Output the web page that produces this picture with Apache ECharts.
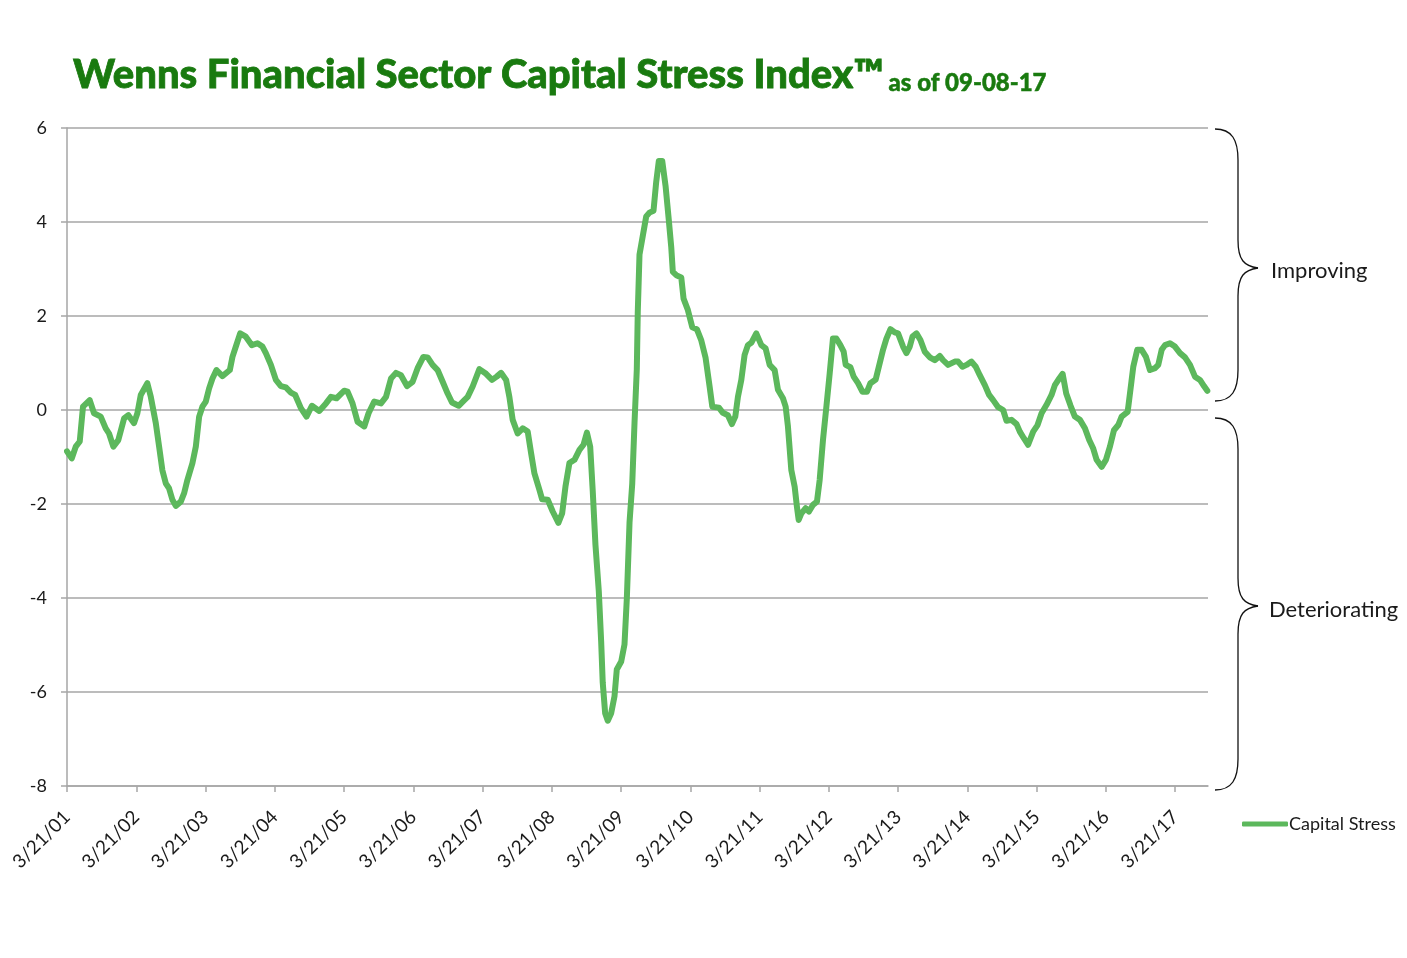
<!DOCTYPE html>
<html>
<head>
<meta charset="utf-8">
<script src="https://cdn.jsdelivr.net/npm/echarts@6/dist/echarts.min.js"></script>
<style>
html,body{margin:0;padding:0;background:#fff;}
#chart{width:1407px;height:958px;}
</style>
</head>
<body>
<div id="chart"></div>
<script>
// Dates as decimal years (3/21 = .216)
const dates = [
2001.216,2001.284,2001.342,2001.400,2001.447,2001.544,2001.606,2001.703,2001.775,2001.823,2001.885,2001.957,
2002.040,2002.102,2002.184,2002.232,2002.281,2002.376,2002.426,2002.498,2002.546,2002.593,2002.642,2002.690,
2002.738,2002.787,2002.859,2002.907,2002.954,2003.027,2003.076,2003.124,2003.171,2003.220,2003.268,2003.316,
2003.374,2003.460,2003.567,2003.605,2003.654,2003.716,2003.798,2003.885,2003.966,2004.038,2004.087,2004.160,
2004.232,2004.304,2004.376,2004.449,2004.511,2004.593,2004.674,2004.752,2004.858,2004.955,2005.027,2005.108,
2005.219,2005.267,2005.339,2005.411,2005.508,2005.570,2005.652,2005.749,2005.822,2005.894,2005.966,2006.038,
2006.125,2006.206,2006.278,2006.361,2006.423,2006.495,2006.567,2006.640,2006.712,2006.775,2006.871,2006.953,
2007.001,2007.073,2007.170,2007.267,2007.353,2007.420,2007.483,2007.556,2007.603,2007.651,2007.723,2007.796,
2007.868,2007.917,2007.965,2008.037,2008.076,2008.157,2008.229,2008.311,2008.365,2008.413,2008.470,2008.543,
2008.615,2008.673,2008.723,2008.770,2008.807,2008.846,2008.894,2008.928,2008.951,2008.986,2009.024,2009.073,
2009.121,2009.154,2009.218,2009.265,2009.299,2009.338,2009.377,2009.410,2009.443,2009.457,2009.482,2009.530,
2009.579,2009.626,2009.684,2009.723,2009.761,2009.810,2009.858,2009.905,2009.940,2009.963,2010.021,2010.085,
2010.118,2010.180,2010.244,2010.310,2010.374,2010.436,2010.494,2010.533,2010.628,2010.686,2010.758,2010.816,
2010.865,2010.903,2010.952,2010.999,2011.047,2011.096,2011.168,2011.241,2011.303,2011.361,2011.433,2011.481,
2011.553,2011.592,2011.625,2011.674,2011.722,2011.755,2011.780,2011.819,2011.881,2011.929,2011.986,2012.044,
2012.083,2012.131,2012.180,2012.228,2012.275,2012.324,2012.382,2012.430,2012.459,2012.527,2012.574,2012.637,
2012.700,2012.767,2012.816,2012.892,2012.998,2013.047,2013.105,2013.167,2013.215,2013.287,2013.336,2013.384,
2013.423,2013.481,2013.538,2013.601,2013.673,2013.745,2013.817,2013.865,2013.937,2014.034,2014.082,2014.145,
2014.203,2014.275,2014.337,2014.395,2014.468,2014.530,2014.588,2014.660,2014.732,2014.781,2014.853,2014.926,
2014.973,2015.031,2015.093,2015.166,2015.229,2015.287,2015.359,2015.431,2015.479,2015.542,2015.591,2015.643,
2015.706,2015.768,2015.841,2015.913,2015.975,2016.033,2016.082,2016.154,2016.216,2016.274,2016.332,2016.394,
2016.443,2016.530,2016.563,2016.611,2016.668,2016.732,2016.794,2016.852,2016.925,2016.972,2017.021,2017.069,
2017.141,2017.213,2017.286,2017.358,2017.430,2017.502,2017.574,2017.632,2017.680
];
const stress = [
-0.88,-1.03,-0.78,-0.67,0.07,0.21,-0.07,-0.14,-0.39,-0.50,-0.78,-0.64,
-0.18,-0.11,-0.28,-0.07,0.32,0.57,0.28,-0.28,-0.78,-1.28,-1.56,-1.67,
-1.91,-2.04,-1.95,-1.77,-1.49,-1.13,-0.78,-0.14,0.07,0.18,0.46,0.67,
0.85,0.72,0.85,1.13,1.35,1.63,1.56,1.38,1.42,1.35,1.21,0.96,
0.64,0.51,0.48,0.37,0.32,0.04,-0.14,0.09,-0.02,0.14,0.28,0.25,
0.41,0.39,0.14,-0.25,-0.35,-0.07,0.18,0.14,0.28,0.67,0.79,0.74,
0.51,0.60,0.89,1.13,1.12,0.96,0.85,0.60,0.35,0.16,0.09,0.21,
0.28,0.50,0.87,0.77,0.64,0.71,0.79,0.64,0.28,-0.21,-0.50,-0.39,
-0.46,-0.92,-1.35,-1.70,-1.90,-1.91,-2.16,-2.40,-2.20,-1.63,-1.13,-1.06,
-0.85,-0.74,-0.48,-0.78,-1.73,-2.87,-3.85,-4.91,-5.80,-6.45,-6.61,-6.45,
-6.09,-5.52,-5.35,-4.99,-4.01,-2.39,-1.57,-0.27,0.87,2.09,3.31,3.71,
4.12,4.20,4.24,4.85,5.30,5.30,4.77,4.04,3.47,2.94,2.86,2.82,
2.37,2.13,1.76,1.72,1.48,1.11,0.50,0.07,0.05,-0.06,-0.11,-0.30,
-0.14,0.28,0.64,1.17,1.38,1.43,1.63,1.38,1.31,0.96,0.85,0.43,
0.25,0.07,-0.35,-1.28,-1.63,-2.06,-2.34,-2.20,-2.09,-2.16,-2.02,-1.95,
-1.49,-0.64,0.07,0.78,1.52,1.52,1.38,1.24,0.96,0.91,0.71,0.57,
0.39,0.39,0.57,0.65,1.28,1.52,1.72,1.65,1.63,1.35,1.21,1.35,
1.56,1.63,1.49,1.24,1.12,1.06,1.15,1.06,0.96,1.03,1.03,0.92,
0.96,1.03,0.92,0.74,0.53,0.32,0.21,0.06,0.00,-0.23,-0.21,-0.30,
-0.46,-0.60,-0.74,-0.46,-0.32,-0.07,0.11,0.32,0.53,0.67,0.77,0.35,
0.09,-0.14,-0.21,-0.39,-0.64,-0.82,-1.06,-1.21,-1.06,-0.78,-0.43,-0.32,
-0.14,-0.04,0.35,0.92,1.28,1.28,1.13,0.85,0.89,0.96,1.28,1.38,
1.42,1.35,1.21,1.12,0.96,0.71,0.64,0.51,0.41
];
const tickYears = [2001,2002,2003,2004,2005,2006,2007,2008,2009,2010,2011,2012,2013,2014,2015,2016,2017];
const tickLabels = ['3/21/01','3/21/02','3/21/03','3/21/04','3/21/05','3/21/06','3/21/07','3/21/08','3/21/09','3/21/10','3/21/11','3/21/12','3/21/13','3/21/14','3/21/15','3/21/16','3/21/17'];
const seriesName = 'Capital Stress';
const yTicks = [-8,-6,-4,-2,0,2,4,6];

const MARCH21 = 0.216;
const tickValues = tickYears.map(y => y + MARCH21);
const points = dates.map((d, i) => [d, stress[i]]);

const FONT = 'Lato, "Open Sans", sans-serif';
const TXT = '#1a1a1a';

// curly brace annotation built from bezier curves and lines
function brace(xs, top, tip, bottom) {
  const xv = xs + 23, xt = xs + 43;
  const st = {fill: 'none', stroke: '#111', lineWidth: 1.3};
  const bz = (x1,y1,c1x,c1y,c2x,c2y,x2,y2) => ({type: 'bezierCurve', silent: true,
    shape: {x1, y1, cpx1: c1x, cpy1: c1y, cpx2: c2x, cpy2: c2y, x2, y2}, style: st});
  const ln = (x1,y1,x2,y2) => ({type: 'line', silent: true, shape: {x1,y1,x2,y2}, style: st});
  return [
    bz(xs, top, xs + 17, top, xv, top + 11, xv, top + 31),
    ln(xv, top + 31, xv, tip - 28),
    bz(xv, tip - 28, xv, tip - 8, xv + 6, tip - 2, xt, tip),
    bz(xt, tip, xv + 6, tip + 2, xv, tip + 8, xv, tip + 28),
    ln(xv, tip + 28, xv, bottom - 31),
    bz(xv, bottom - 31, xv, bottom - 11, xs + 17, bottom, xs, bottom)
  ];
}

const chart = echarts.init(document.getElementById('chart'), null, {renderer: 'canvas'});
chart.setOption({
  animation: false,
  backgroundColor: '#fff',
  title: {
    left: 68, top: 50,
    text: '{a|Wenns Financial Sector Capital Stress Index™} {b|as of 09-08-17}',
    textStyle: {
      rich: {
        a: {fontFamily: FONT, fontWeight: 900, fontSize: 40, color: '#197a0f', textBorderColor: '#197a0f', textBorderWidth: 0.8},
        b: {fontFamily: FONT, fontWeight: 900, fontSize: 24, color: '#197a0f', verticalAlign: 'bottom', textBorderColor: '#197a0f', textBorderWidth: 0.5}
      }
    }
  },
  legend: {
    data: [seriesName],
    left: 1237, top: 810,
    icon: 'roundRect',
    itemWidth: 46, itemHeight: 5,
    textStyle: {fontFamily: FONT, fontSize: 18, color: TXT, padding: [0,0,0,-4]}
  },
  grid: {left: 67, top: 128, width: 1141, height: 658, containLabel: false},
  xAxis: {
    type: 'value',
    min: 2001 + MARCH21, max: 2017.69,
    axisLine: {show: true, onZero: false, lineStyle: {color: '#a6a6a6', width: 1.5}},
    axisTick: {show: true, length: 6, lineStyle: {color: '#a6a6a6', width: 1.5}, customValues: tickValues},
    splitLine: {show: false},
    axisLabel: {
      customValues: tickValues,
      rotate: 45, margin: 28,
      fontFamily: FONT, fontSize: 19, color: TXT,
      formatter: v => {
        const idx = tickValues.findIndex(t => Math.abs(t - v) < 1e-6);
        return idx >= 0 ? tickLabels[idx] : '';
      }
    }
  },
  yAxis: {
    type: 'value',
    min: yTicks[0], max: yTicks[yTicks.length - 1], interval: 2,
    axisLine: {show: true, onZero: false, lineStyle: {color: '#a6a6a6', width: 1.5}},
    axisTick: {show: true, length: 6, lineStyle: {color: '#a6a6a6', width: 1.5}},
    splitLine: {show: true, lineStyle: {color: '#a6a6a6', width: 1.5}},
    axisLabel: {margin: 20, fontFamily: FONT, fontSize: 18, color: TXT}
  },
  series: [{
    name: seriesName,
    type: 'line',
    data: points,
    showSymbol: false,
    symbol: 'none',
    lineStyle: {color: '#5cb85c', width: 6, join: 'round', cap: 'round'},
    itemStyle: {color: '#5cb85c'}
  }],
  graphic: [].concat(
    brace(1215, 129, 268, 401),
    brace(1215, 418, 606, 790),
    [
      {type: 'text', left: 1271, top: 260, silent: true,
       style: {text: 'Improving', fontFamily: FONT, fontSize: 22, fill: TXT}},
      {type: 'text', left: 1269, top: 599, silent: true,
       style: {text: 'Deteriorating', fontFamily: FONT, fontSize: 22, fill: TXT}}
    ]
  )
});
</script>
</body>
</html>
